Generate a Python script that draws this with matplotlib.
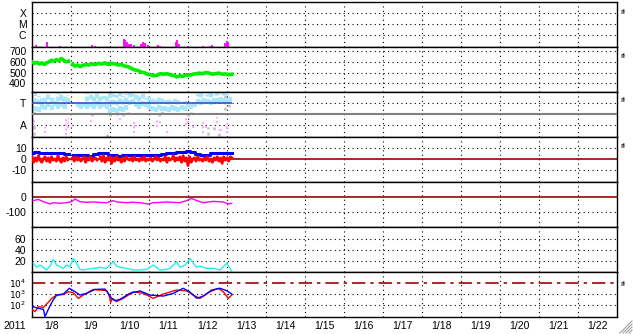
import numpy as np
import matplotlib
matplotlib.use('Agg')
import matplotlib.pyplot as plt
from matplotlib.lines import Line2D

plt.rcParams['font.family'] = ['Liberation Sans', 'DejaVu Sans']
plt.rcParams['font.size'] = 7.5
plt.rcParams['mathtext.fontset'] = 'dejavusans'

# time axis: hours since 2011-01-08 00:00, 15 days on the plot
year_label = '2011'
day_labels = ['1/8', '1/9', '1/10', '1/11', '1/12', '1/13', '1/14', '1/15',
              '1/16', '1/17', '1/18', '1/19', '1/20', '1/21', '1/22']

# panel 1: X-ray flux bars
xray_hours = [2.5, 9.2, 17.2, 36.9, 38.8, 56.6, 57.5, 58.5, 59.7, 60.9, 62.8,
              67.1, 68.3, 69.5, 71.4, 77.5, 78.8, 88.6, 89.5, 90.5, 96.0,
              105.2, 109.5, 110.8, 118.8, 119.7, 120.6]
xray_flux = [1.2e-7, 2.3e-7, 1.0e-7, 1.2e-7, 1.1e-7, 4.4e-7, 3.5e-7, 2.3e-7,
             1.5e-7, 1.4e-7, 1.2e-7, 1.5e-7, 2.3e-7, 1.9e-7, 1.2e-7, 1.2e-7,
             1.1e-7, 2.3e-7, 3.5e-7, 1.5e-7, 1.0e-7, 1.0e-7, 1.1e-7, 1.2e-7,
             1.9e-7, 2.8e-7, 2.1e-7]

# panel 2: solar wind speed
speed_hours = [0, 1.5, 3, 4.5, 6, 7.5, 9, 10.5, 12, 13.5, 15, 16.5, 18, 19.5,
               21, 22.5, 23.5, 25, 26.5, 28, 29.5, 31, 33, 35, 37, 39, 41, 43,
               45, 47, 49, 51, 53, 55, 57, 59, 61, 63, 65, 67, 69, 71, 73, 75,
               77, 79, 81, 83, 85, 87, 89, 91, 93, 95, 97, 99, 101, 103, 105,
               107, 109, 111, 113, 115, 117, 119, 121, 123]
speed = [600, 585, 595, 580, 590, 575, 590, 600, 615, 605, 620, 610, 630, 615,
         600, 605, np.nan, 575, 560, 570, 555, 565, 575, 570, 580, 575, 585,
         580, 590, 575, 585, 580, 570, 575, 560, 555, 540, 525, 520, 505, 500,
         485, 480, 470, 475, 490, 485, 490, 480, 475, 460, 470, 465, 480, 475,
         485, 490, 495, 490, 500, 495, 485, 490, 495, 485, 488, 480, 485]

# panel 3: IMF sector (T = toward, A = away), 2-hour bins
sector_hours = list(range(0, 124, 2))
toward_lo = [0.1, 0.3, 0.2, 0.5, 0.4, 0.6, 0.4, 0.7, 0.5, 0.6, 0.5, 1.0,
             np.nan, np.nan, 0.6, 0.5, 0.6, 0.5, 0.6, 0.5, 0.7, 0.5, 0.6, 0.5,
             0.1, 0.2, 0.1, 0.3, 0.2, 0.4, 0.8, 0.9, 0.6, 0.5, 0.7, 0.6, 0.5,
             0.3, 0.2, 0.4, 0.3, 0.3, 0.2, 0.4, 0.3, 0.2, 0.4, 0.3, 0.6, 0.5,
             0.6, 0.9, 0.8, 1.0, 0.9, 0.8, 1.0, 1.0, 1.1, 1.0, 1.0, 1.1]
toward_hi = [1.8, 1.9, 1.6, 1.5, 1.7, 1.8, 1.6, 1.5, 1.9, 1.8, 1.7, 1.7,
             np.nan, np.nan, 1.1, 1.0, 1.3, 1.9, 1.8, 1.7, 1.9, 1.8, 1.6, 1.7,
             1.9, 1.8, 1.7, 1.9, 1.6, 1.8, 1.9, 1.8, 1.7, 1.6, 1.8, 1.5, 1.7,
             1.6, 1.4, 1.7, 1.5, 1.3, 1.4, 1.2, 1.4, 1.3, 1.1, 1.2, 1.2, 1.0,
             1.3, 1.8, 1.9, 1.7, 1.8, 1.9, 1.7, 1.9, 1.8, 1.9, 1.8, 1.7]
gray_hours = [1, 1, 17, 19, 37, 48, 52, 56, 59, 46, 78, 80, 96, 98, 108,
              112, 115, 119, 121]
gray_lo = [0.0, -1.9, 0.7, 0.6, -0.2, -0.2, -0.1, -0.2, 0.0, -2.06, -0.2,
           0.0, -0.2, 0.0, -1.9, -1.2, -2.0, 0.4, 0.6]
gray_hi = [0.4, -1.0, 1.6, 1.7, 0.1, 0.3, 0.4, 0.3, 0.2, -1.76, 0.3, 0.3,
           0.3, 0.2, -1.2, -1.6, -1.4, 1.9, 1.5]
pink_hours = [0.5, 1.5, 8, 21, 22, 36, 54, 63, 64, 77, 79, 83, 95, 96, 99,
              105, 107, 113.6, 116, 120]
pink_lo = [-1.9, -1.2, -1.76, -1.9, -1.3, -0.7, -0.55, -1.76, -1.2, -1.15,
           -0.8, -1.7, -1.0, -0.8, -1.25, -1.76, -1.3, -0.85, -1.5, -1.76]
pink_hi = [-0.3, -0.5, -1.15, -0.24, -0.4, -0.39, -0.39, -0.7, -0.9, -0.39,
           -0.5, -1.5, -0.39, -0.5, -1.05, -0.7, -0.9, -0.24, -1.3, -0.85]

# panel 4: IMF Bt (3-hour) and Bz (hourly), nT
bt_hours = list(range(0, 124, 3))
bt = [5.5, 6, 5.5, 5, 5.5, 5.5, 5, 4.5, np.nan, 3.5, 3.5, 3.5, 3, 4.5, 5.5,
      5, 4, 3.5, 3, 3.5, 3.5, 4, 4, 4, 4, 3.5, 4, 4.5, 5, 5.5, 6, 6.5, 7.5,
      6.5, 4.5, 3.5, 4, 5, 5, 5, 5, 5.5]
bz_hours = list(range(0, 124))
bz = [2, -3, 1, -2, 3, -1, -3, 0, 2, -2,
      1, -3, 2, -1, 0, -2, 3, -1, -3, 1,
      -2, 2, -1, np.nan, np.nan, 1, -2, 2, -1, 1,
      -2, 0, 2, -3, 1, -1, 2, -2, 0, 1,
      -1, np.nan, 2, -2, 3, -3, 1, -1, 2, -4,
      1, -2, 2, -1, 0, -3, 1, -2, 2, 0,
      -1, 1, -2, 2, -1, 0, -2, 1, -1, 2,
      -2, 0, -1, 1, -2, 0, 2, -1, 1, -2,
      0, -1, 2, -3, 1, -1, 0, 3, -2, 1,
      -1, 2, -3, 3, -2, 1, -6, 2, -3, 0,
      1, -2, 2, -1, 0, -2, 1, -1, 2, -2,
      0, -3, 1, -1, 2, -2, 1, -4, 2, -1,
      1, -2, 2, 1]

# panel 5: Dst index, nT
dst_hours = [0.8, 3.9, 7, 11.1, 13.1, 17.2, 21.3, 24.4, 26.5, 29.5, 33.6,
             37.5, 41.8, 46, 50, 52.1, 58.3, 62, 66.5, 71.6, 74.7, 79, 82.9,
             87, 91.1, 95.2, 98.2, 101.3, 105.4, 111.6, 117.7, 120.8, 122.9]
dst = [-24, -16, -31, -47, -38, -42, -38, -31, -13, -31, -36, -33, -36, -38,
       -24, -33, -38, -35, -38, -47, -38, -36, -33, -36, -38, -24, -9, -24,
       -38, -29, -33, -47, -42]

# panel 6: cyan index
p6_hours = [0.8, 2.9, 4.9, 7, 9, 11.1, 13.1, 15.2, 17.2, 19.3, 21.3, 23.4,
            25.4, 27.5, 29.5, 31.6, 33.6, 37.7, 41.8, 46, 50, 52.1, 54.2,
            58.3, 62.4, 66.5, 70.6, 74.7, 78.8, 82.9, 84.9, 87, 89, 91.1,
            94.2, 97.2, 99.3, 101.3, 103.4, 107.5, 111.6, 115.7, 119.8, 121.8,
            122.9]
p6 = [15.8, 8.5, 12.7, 8.5, 3.6, 10.9, 23, 12.7, 9.7, 6.7, 12.7, 9.7, 24.8,
      15.8, 4.9, 3.6, 4.9, 6.7, 8.5, 6.7, 18.8, 10.9, 8.5, 6.7, 3.6, 3.6,
      4.9, 12.7, 3.6, 4.9, 6.7, 12.7, 18.8, 8.5, 12.7, 24.8, 15.8, 8.5, 10.9,
      6.7, 6.7, 3.6, 15.8, 6.7, 0.5]

# panel 7: electron flux, two satellites
e_blue_hours = [0.8, 3.9, 7, 8, 9.4, 11, 13, 15.2, 19.3, 23, 26.5, 29.5,
                33.7, 38.8, 44.9, 47, 49, 51, 54, 60.3, 66.5, 72.6, 80.8, 87,
                93, 97, 101.4, 105.4, 110.6, 115.7, 119.8, 122.9]
e_blue = [70, 50, 40, 9, 25, 80, 280, 800, 1000, 3300, 1600, 800, 1150, 2600,
          2800, 1150, 400, 250, 320, 1150, 1900, 800, 650, 1150, 3300, 1600,
          400, 650, 2300, 3300, 2000, 1000]
e_red_hours = [0, 1.8, 3.9, 7, 10, 12.1, 15.2, 19.3, 22.4, 25.4, 28.5, 32.6,
               37.7, 46, 47.6, 48.4, 49.6, 52, 56.2, 62.3, 68.5, 74.6, 80.8,
               89, 95.2, 99.3, 103.4, 109.5, 114.7, 117.7, 120.8, 122.9]
e_red = [40, 25, 70, 60, 175, 400, 800, 900, 1600, 1300, 400, 1000, 2600,
         2000, 600, 175, 400, 200, 400, 1600, 1150, 400, 1000, 2300, 1900,
         800, 400, 1600, 3300, 1600, 400, 800]
e_alert = 1e4

# ---- layout ----
W, H = 633, 334
fig = plt.figure(figsize=(W / 100, H / 100), dpi=100)
fig.patch.set_facecolor('white')
x0, x1 = 32, 617
tops = [2, 47, 92, 137, 182, 227, 272]
ph = 45
day_edges = [24 * i for i in range(1, 15)]
dot = (0, (1, 3))


def panel(top):
    ax = fig.add_axes([x0 / W, 1 - (top + ph) / H, (x1 - x0) / W, ph / H])
    ax.set_xlim(0, 360)
    ax.set_xticks([])
    ax.tick_params(length=0, pad=4)
    for s in ax.spines.values():
        s.set_linewidth(1.0)
        s.set_color('black')
    for d in day_edges:
        ax.axvline(d, color='black', lw=0.8, ls=dot, zorder=1)
    return ax


def hgrid(ax, levels):
    for v in levels:
        ax.axhline(v, color='black', lw=0.8, ls=dot, zorder=1)


axes = [panel(t) for t in tops]

# 1 X-ray
ax = axes[0]
ax.set_yscale('log')
ax.set_ylim(10 ** -7.09, 1e-3)
ax.yaxis.set_minor_locator(matplotlib.ticker.NullLocator())
ax.set_yticks([1e-4, 1e-5, 1e-6], ['X', 'M', 'C'])
hgrid(ax, [1e-4, 1e-5, 1e-6])
ax.vlines(xray_hours, 10 ** -7.09, xray_flux, color='#ff00ff', lw=1.3, zorder=3)

# 2 speed
ax = axes[1]
ax.set_ylim(320, 737)
ax.set_yticks([700, 600, 500, 400], ['700', '600', '500', '400'])
hgrid(ax, [700, 600, 500, 400])
ax.plot(speed_hours, speed, color='#00ee00', lw=2.6, zorder=3)

# 3 sector
ax = axes[2]
ax.set_ylim(-2.09, 2)
ax.set_yticks([1, -1], ['T', 'A'])
hgrid(ax, [1, -1])
ax.vlines(gray_hours, gray_lo, gray_hi, color='#c4c4c4', lw=2.0,
          linestyles=[(0, (1, 1.2))], zorder=2)
ax.vlines(pink_hours, pink_lo, pink_hi, color='#ffaaff', lw=1.5,
          linestyles=[(0, (1, 1.2))], zorder=2)
ax.vlines(sector_hours, toward_lo, toward_hi, color='#a8e8ff', lw=3.0,
          linestyles=[(0, (1.2, 0.6))], zorder=2)
ax.axhline(0, color='#808080', lw=1.5, zorder=3)
ax.hlines(1, 0, 123, color='#3a50d8', lw=1.2, zorder=4)

# 4 IMF
ax = axes[3]
ax.set_ylim(-21, 20)
ax.set_yticks([10, 0, -10], ['10', '0', '-10'])
hgrid(ax, [10, -10])
ax.axhline(0, color='#a00000', lw=1.2, zorder=2)
ax.plot(bt_hours, bt, color='#0000ff', lw=2.2, drawstyle='steps-mid', zorder=3)
ax.plot(bz_hours, bz, color='#ff0000', lw=2.0, zorder=4)

# 5 Dst
ax = axes[4]
ax.set_ylim(-200, 100)
ax.set_yticks([0, -100], ['0', '-100'])
hgrid(ax, [-100])
ax.axhline(0, color='#a00000', lw=1.2, zorder=2)
ax.plot(dst_hours, dst, color='#ff00ff', lw=1.0, zorder=3)

# 6
ax = axes[5]
ax.set_ylim(0, 82)
ax.set_yticks([60, 40, 20], ['60', '40', '20'])
hgrid(ax, [60, 40, 20])
ax.plot(p6_hours, p6, color='#22eeee', lw=1.0, zorder=3)

# 7 electrons
ax = axes[6]
ax.set_yscale('log')
ax.set_ylim(10 ** 0.91, 1e5)
ax.yaxis.set_minor_locator(matplotlib.ticker.NullLocator())
ax.set_yticks([1e4, 1e3, 1e2], [r'$10^4$', r'$10^3$', r'$10^2$'], fontsize=6.5)
hgrid(ax, [1e3, 1e2])
ax.axhline(e_alert, color='#a00000', lw=1.2, ls=(0, (8, 3, 2, 3)), zorder=2)
ax.plot(e_red_hours, e_red, color='#ff0000', lw=1.0, zorder=3)
ax.plot(e_blue_hours, e_blue, color='#0000ff', lw=1.0, zorder=4)
ax.set_xticks([12 + 24 * i for i in range(15)], day_labels)
ax.tick_params(axis='x', length=0, pad=3)

fig.text(15 / W, 1 - 326 / H, year_label, ha='center', va='center')

# small marks at the right edge
for yy in [12, 56, 101, 146, 284]:
    fig.text(620 / W, 1 - yy / H, 'rł', fontsize=6, ha='left', va='center')

# resize grip in the corner
for k in range(4):
    a = 620 + 3 * k
    fig.add_artist(Line2D([a / W, 632 / W], [1 - 333 / H, 1 - (333 - (632 - a)) / H],
                          color='#a0a0a0', lw=0.8))

fig.savefig('out.png', dpi=100)
